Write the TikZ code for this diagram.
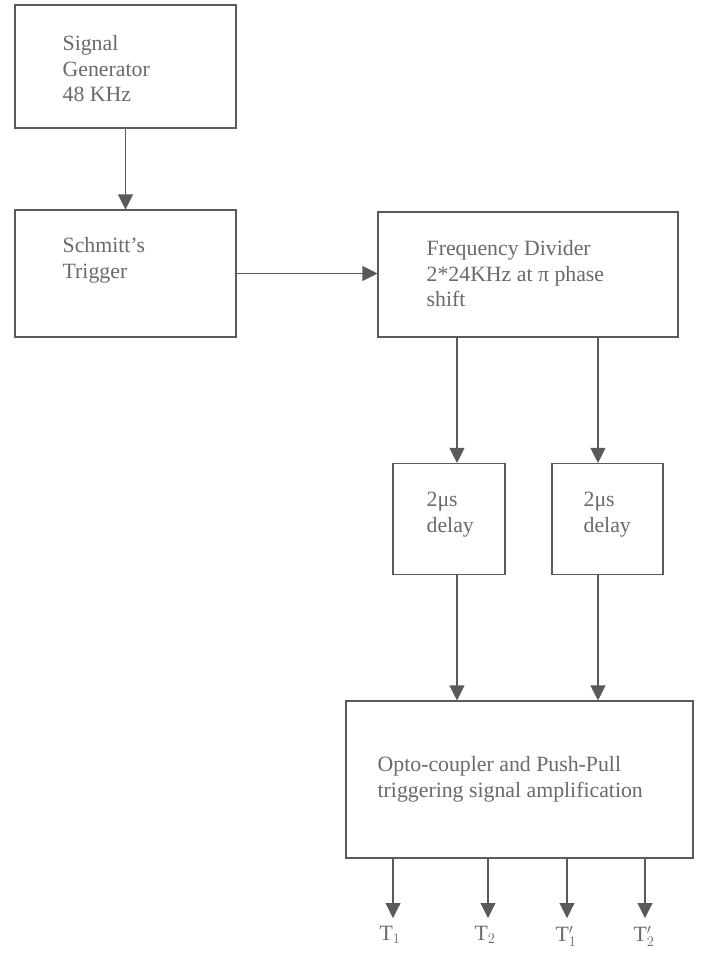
\documentclass[tikz,border=0pt]{standalone}
\usepackage{fontspec}
\setmainfont{Liberation Serif}
\usetikzlibrary{positioning,arrows.meta}
\definecolor{linegray}{HTML}{5A5A5A}
\definecolor{textgray}{HTML}{6A6A6A}
\tikzset{
  blockbox/.style={draw=linegray, line width=1.1pt, minimum width=#1, inner sep=0pt},
  blocktext/.style={inner sep=0pt, align=left, text=textgray, font=\fontsize{21.8}{25.5}\selectfont},
  arr/.style={draw=linegray, line width=1.1pt, -{Triangle[width=15pt,length=15pt]}}
}
\begin{document}
\begin{tikzpicture}[x=1pt,y=-1pt]
\useasboundingbox[fill=white] (0,0) rectangle (702,954);
% blocks
\node[blockbox=221pt, minimum height=123pt] (gen) at (125.5,66.5) {};
\node[blockbox=221pt, minimum height=127pt] (trig) at (125.5,273.5) {};
\node[blockbox=300pt, minimum height=125pt] (fd) at (528,274.5) {};
\node[blockbox=112pt, minimum height=111pt] (dlyA) at (449,519) {};
\node[blockbox=111pt, minimum height=111pt] (dlyB) at (607.5,519) {};
\node[blockbox=347pt, minimum height=157pt] (opto) at (519.5,779.5) {};
% texts
\node[blocktext, anchor=north west, below right=31pt and 48pt of gen.north west] (genT) {Signal\\Generator\\48 KHz};
\node[blocktext, anchor=north west, below right=28pt and 48pt of trig.north west] (trigT) {Schmitt's\\Trigger};
\node[blocktext, anchor=north west, below right=29pt and 49pt of fd.north west] (fdT) {Frequency Divider\\2*24KHz at π phase\\shift};
\node[blocktext, anchor=north west, below right=29pt and 34pt of dlyA.north west] (dlyAT) {2μs\\delay};
\node[blocktext, anchor=north west, below right=29pt and 32pt of dlyB.north west] (dlyBT) {2μs\\delay};
\node[blocktext, anchor=north west, below right=56pt and 32pt of opto.north west] (optoT) {Opto-coupler and Push-Pull\\triggering signal amplification};
% outputs
\coordinate (o1) at (393,918);
\coordinate (o2) at (488,918);
\coordinate (o3) at (567,918);
\coordinate (o4) at (645,918);
\node[blocktext, below=8pt of o1, xshift=-3pt] (l1) {T$_1$};
\node[blocktext, below=8pt of o2, xshift=-3pt] (l2) {T$_2$};
\node[blocktext, below=8pt of o3, xshift=-1pt] (l3) {T$_1'$};
\node[blocktext, below=8pt of o4, xshift=-1pt] (l4) {T$_2'$};
% connectors
\draw[arr] (gen) -- (trig);
\draw[arr] (trig.east) -- (trig.east -| fd.west);
\draw[arr] ([xshift=8pt]dlyA.north |- fd.south) -- ([xshift=8pt]dlyA.north);
\draw[arr] ([xshift=-9.5pt]dlyB.north |- fd.south) -- ([xshift=-9.5pt]dlyB.north);
\draw[arr] ([xshift=8pt]dlyA.south) -- ([xshift=8pt]dlyA.south |- opto.north);
\draw[arr] ([xshift=-9.5pt]dlyB.south) -- ([xshift=-9.5pt]dlyB.south |- opto.north);
\foreach \o in {o1,o2,o3,o4}
  \draw[arr] (\o |- opto.south) -- (\o);
\end{tikzpicture}
\end{document}
